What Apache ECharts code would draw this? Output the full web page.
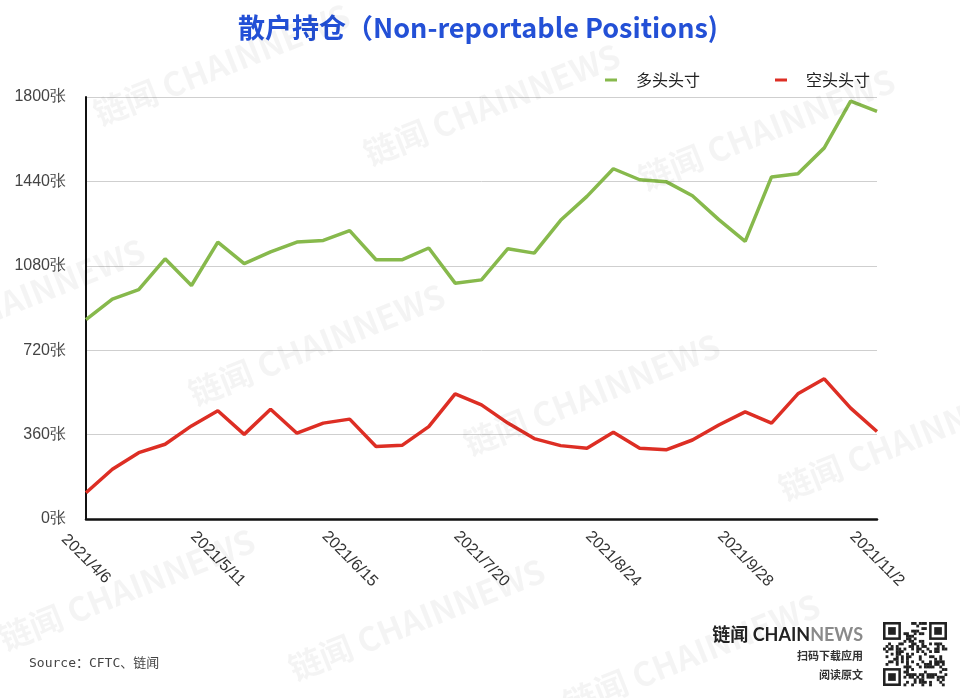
<!DOCTYPE html>
<html>
<head>
<meta charset="utf-8">
<script src="https://cdn.jsdelivr.net/npm/echarts@6/dist/echarts.min.js"></script>
<style>
html,body{margin:0;padding:0;background:#fff;}
#chart{width:960px;height:698px;}
</style>
</head>
<body>
<div id="chart"></div>
<script>
var categories = ['2021/4/6','2021/4/13','2021/4/20','2021/4/27','2021/5/4','2021/5/11','2021/5/18','2021/5/25','2021/6/1','2021/6/8','2021/6/15','2021/6/22','2021/6/29','2021/7/6','2021/7/13','2021/7/20','2021/7/27','2021/8/3','2021/8/10','2021/8/17','2021/8/24','2021/8/31','2021/9/7','2021/9/14','2021/9/21','2021/9/28','2021/10/5','2021/10/12','2021/10/19','2021/10/26','2021/11/2'];
var longPositions = [850, 938, 978, 1110, 996, 1181, 1089, 1139, 1181, 1188, 1230, 1106, 1106, 1156, 1006, 1020, 1153, 1134, 1274, 1376, 1494, 1447, 1439, 1379, 1277, 1184, 1459, 1473, 1583, 1782, 1739];
var shortPositions = [112, 212, 283, 319, 397, 462, 361, 468, 366, 409, 426, 309, 315, 394, 534, 487, 409, 343, 313, 302, 370, 302, 295, 337, 401, 457, 409, 534, 598, 473, 373];
var seriesNames = ['多头头寸', '空头头寸'];
var yTicks = [0, 360, 720, 1080, 1440, 1800];

var chart = echarts.init(document.getElementById('chart'));

// watermark positions (decoration)
var wmPos = [[95,115],[365,155],[640,180],[-110,350],[190,395],[465,445],[780,490],[0,640],[290,670],[565,705]];
var graphics = [];
wmPos.forEach(function(p){
  graphics.push({
    type:'text', x:p[0], y:p[1], rotation:0.38, z:100, silent:true,
    style:{text:'链闻 CHAINNEWS', fill:'rgba(0,0,0,0.045)', font:'bold 33px "Noto Sans CJK SC", sans-serif', textAlign:'left', textVerticalAlign:'middle'}
  });
});
graphics.push({type:'text', left:29, top:657, style:{text:'Source：CFTC、链闻', fill:'#444', font:'13px "DejaVu Sans Mono", "Noto Sans CJK SC", monospace'}});
graphics.push({type:'text', x:863, y:635, style:{rich:{a:{fill:'#222',font:'bold 18px Lato, "Noto Sans CJK SC", sans-serif'},b:{fill:'#8a8a8a',font:'bold 18px Lato, "Noto Sans CJK SC", sans-serif'}}, text:'{a|链闻 CHAIN}{b|NEWS}', textAlign:'right', textVerticalAlign:'middle'}});
graphics.push({type:'text', x:863, y:656, style:{text:'扫码下载应用', fill:'#333', font:'bold 11px "Noto Sans CJK SC", sans-serif', textAlign:'right', textVerticalAlign:'middle'}});
graphics.push({type:'text', x:863, y:675, style:{text:'阅读原文', fill:'#333', font:'bold 11px "Noto Sans CJK SC", sans-serif', textAlign:'right', textVerticalAlign:'middle'}});

// QR-like decoration
var qx = 883, qy = 622, n = 25, m = 64 / n;
function finder(cx, cy){
  graphics.push({type:'rect', shape:{x:qx+cx*m, y:qy+cy*m, width:7*m, height:7*m}, style:{fill:'#222'}});
  graphics.push({type:'rect', shape:{x:qx+(cx+1)*m, y:qy+(cy+1)*m, width:5*m, height:5*m}, style:{fill:'#fff'}});
  graphics.push({type:'rect', shape:{x:qx+(cx+2)*m, y:qy+(cy+2)*m, width:3*m, height:3*m}, style:{fill:'#222'}});
}
for (var i=0;i<n;i++){
  for (var j=0;j<n;j++){
    var inF = (i<8&&j<8)||(i<8&&j>=n-8)||(i>=n-8&&j<8);
    if (inF) continue;
    var h = ((i*31 + j*17 + i*j*7) ^ (i*5+j*3)) % 7;
    if (h < 3) graphics.push({type:'rect', shape:{x:qx+j*m, y:qy+i*m, width:m+0.3, height:m+0.3}, style:{fill:'#222'}});
  }
}
finder(0,0); finder(n-7,0); finder(0,n-7);

var option = {
  backgroundColor:'#fff',
  animation:false,
  title:{
    text:'散户持仓（Non-reportable Positions)',
    left:473, top:9, textAlign:'center',
    textStyle:{color:'#2350d6', fontSize:27, fontWeight:'bold', fontFamily:'"Noto Sans CJK SC", sans-serif'}
  },
  legend:{
    data:seriesNames,
    left:600, top:67,
    icon:'rect', itemWidth:12, itemHeight:3, itemGap:75,
    textStyle:{color:'#222', fontSize:16, fontFamily:'"Noto Sans CJK SC", sans-serif', padding:[0,0,0,14]}
  },
  grid:{left:86, right:83, top:97, bottom:179},
  xAxis:{
    type:'category', data:categories, boundaryGap:false,
    axisLine:{lineStyle:{color:'#111', width:2.5}},
    axisTick:{show:false},
    axisLabel:{interval:4, rotate:-45, align:'center', verticalAlign:'middle', margin:40, color:'#333', fontSize:16, fontFamily:'"Liberation Sans", Arial, sans-serif'}
  },
  yAxis:{
    type:'value', min:yTicks[0], max:yTicks[yTicks.length-1], interval:yTicks[1]-yTicks[0],
    axisLine:{show:true, lineStyle:{color:'#111', width:2}},
    axisTick:{show:false},
    splitLine:{lineStyle:{color:'#cfcfcf', width:1}},
    axisLabel:{formatter:function(v){return v + '张';}, margin:20, color:'#444', fontSize:16, fontFamily:'"Liberation Sans", Arial, sans-serif'}
  },
  series:[
    {name:seriesNames[0], type:'line', data:longPositions, showSymbol:false, symbol:'none', lineStyle:{color:'#87b94c', width:3.5}, itemStyle:{color:'#87b94c'}},
    {name:seriesNames[1], type:'line', data:shortPositions, showSymbol:false, symbol:'none', lineStyle:{color:'#dd2e24', width:3.5}, itemStyle:{color:'#dd2e24'}}
  ],
  graphic:graphics
};
chart.setOption(option);
</script>
</body>
</html>
